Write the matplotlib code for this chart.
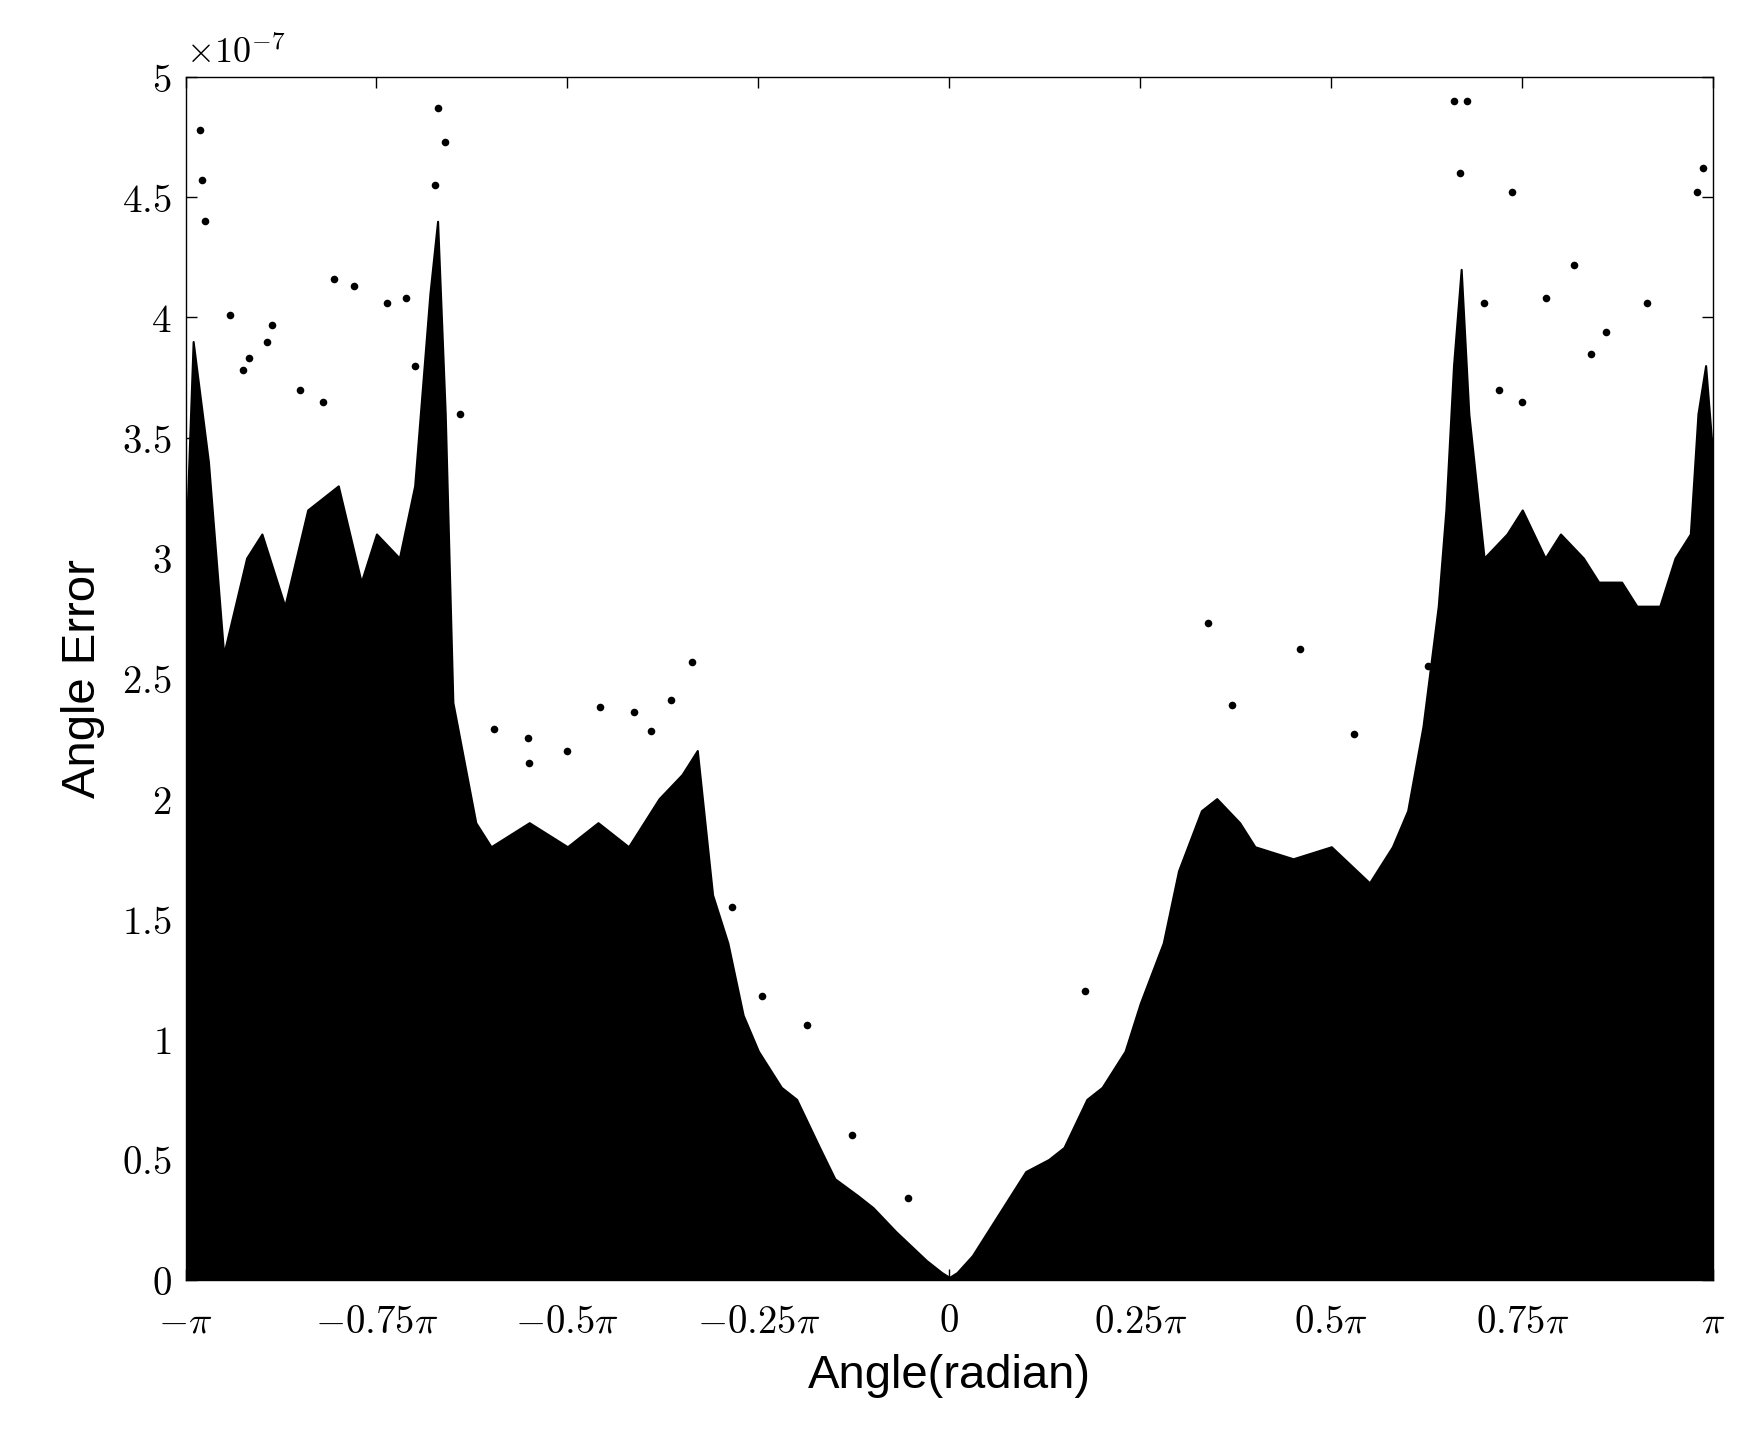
import numpy as np
import matplotlib
matplotlib.use("Agg")
import matplotlib.pyplot as plt

plt.rcParams['mathtext.fontset'] = 'cm'

# Upper envelope of the dense point cloud (x in units of pi, y in 1e-7)
env_x = [-1.0, -0.99, -0.97, -0.95, -0.92, -0.9, -0.87, -0.84, -0.8, -0.77, -0.75, -0.72, -0.7, -0.68, -0.67, -0.66,
         -0.65, -0.62, -0.6, -0.55, -0.5, -0.46, -0.42, -0.38, -0.35, -0.33, -0.31, -0.29, -0.27, -0.25, -0.22,
         -0.2, -0.17, -0.15, -0.12, -0.1, -0.07, -0.05, -0.03, -0.01, 0.0, 0.01, 0.03, 0.05, 0.08, 0.1, 0.13,
         0.15, 0.18, 0.2, 0.23, 0.25, 0.28, 0.3, 0.33, 0.35, 0.38, 0.4, 0.45, 0.5, 0.55, 0.58, 0.6, 0.62, 0.64,
         0.65, 0.66, 0.67, 0.68, 0.7, 0.73, 0.75, 0.78, 0.8, 0.83, 0.85, 0.88, 0.9, 0.93, 0.95, 0.97, 0.98, 0.99, 1.0]
env_y = [3.0, 3.9, 3.4, 2.6, 3.0, 3.1, 2.8, 3.2, 3.3, 2.9, 3.1, 3.0, 3.3, 4.1, 4.4, 3.6,
         2.4, 1.9, 1.8, 1.9, 1.8, 1.9, 1.8, 2.0, 2.1, 2.2, 1.6, 1.4, 1.1, 0.95, 0.8,
         0.75, 0.55, 0.42, 0.35, 0.3, 0.2, 0.14, 0.08, 0.03, 0.01, 0.03, 0.1, 0.2, 0.35, 0.45, 0.5,
         0.55, 0.75, 0.8, 0.95, 1.15, 1.4, 1.7, 1.95, 2.0, 1.9, 1.8, 1.75, 1.8, 1.65, 1.8, 1.95, 2.3, 2.8,
         3.2, 3.8, 4.2, 3.6, 3.0, 3.1, 3.2, 3.0, 3.1, 3.0, 2.9, 2.9, 2.8, 2.8, 3.0, 3.1, 3.6, 3.8, 3.4]

# Sparse points above the dense region (x in units of pi, y in 1e-7)
out_x = [-0.981, -0.979, -0.975, -0.942, -0.925, -0.917, -0.887, -0.893, -0.806, -0.78, -0.736, -0.711, -0.67, -0.66,
         -0.674, -0.64, -0.596, -0.552, -0.457, -0.413, -0.39, -0.365, -0.337, -0.284, -0.245, -0.186,
         -0.127, -0.054, 0.177, 0.338, 0.37, 0.459, 0.53, 0.627, 0.66, 0.678, 0.668, 0.737, 0.781, 0.818,
         0.859, 0.913, 0.986, 0.979, 0.7, 0.72, 0.84, 0.75, -0.85, -0.82, -0.7, -0.55, -0.5]
out_y = [4.78, 4.57, 4.4, 4.01, 3.78, 3.83, 3.97, 3.9, 4.16, 4.13, 4.06, 4.08, 4.87, 4.73,
         4.55, 3.6, 2.29, 2.25, 2.38, 2.36, 2.28, 2.41, 2.57, 1.55, 1.18, 1.06,
         0.6, 0.34, 1.2, 2.73, 2.39, 2.62, 2.27, 2.55, 4.9, 4.9, 4.6, 4.52, 4.08, 4.22,
         3.94, 4.06, 4.62, 4.52, 4.06, 3.7, 3.85, 3.65, 3.7, 3.65, 3.8, 2.15, 2.2]

xticks = [-1, -0.75, -0.5, -0.25, 0, 0.25, 0.5, 0.75, 1]
xticklabels = [r'$-\pi$', r'$-0.75\pi$', r'$-0.5\pi$', r'$-0.25\pi$', r'$0$',
               r'$0.25\pi$', r'$0.5\pi$', r'$0.75\pi$', r'$\pi$']
yticks = [0, 0.5, 1, 1.5, 2, 2.5, 3, 3.5, 4, 4.5, 5]

fig = plt.figure(figsize=(17.5, 14.51), dpi=100)
ax = fig.add_axes([0.106, 0.118, 0.873, 0.829])
px = np.pi * np.array(env_x)
ax.fill_between(px, 0, np.array(env_y) * 1e-7, color='black', linewidth=1.5, edgecolor='black')
ax.scatter(np.pi * np.array(out_x), np.array(out_y) * 1e-7, s=30, color='black', linewidths=0)
ax.set_xlim(-np.pi, np.pi)
ax.set_ylim(0, 5e-7)
ax.set_xticks(np.pi * np.array(xticks))
ax.set_xticklabels(xticklabels)
ax.set_yticks(np.array(yticks) * 1e-7)
ax.set_yticklabels([r'$%g$' % v for v in yticks])
ax.tick_params(direction='in', top=True, right=True, labelsize=28, length=8, width=1)
ax.tick_params(axis='x', pad=16)
ax.tick_params(axis='y', pad=10)
ax.text(0, 1.005, r'$\times 10^{-7}$', transform=ax.transAxes, fontsize=26, va='bottom', ha='left')
ax.set_xlabel('Angle(radian)', fontsize=34, family='Liberation Sans', labelpad=10)
ax.set_ylabel('Angle Error', fontsize=34, family='Liberation Sans', labelpad=12)
for s in ax.spines.values():
    s.set_linewidth(1)
fig.savefig('out.png', dpi=100, facecolor='white')
